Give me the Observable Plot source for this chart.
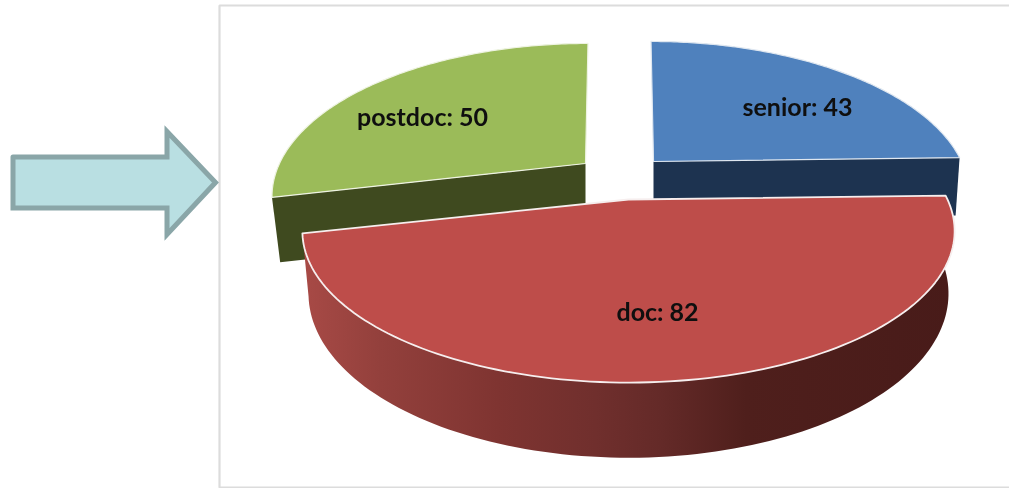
<!DOCTYPE html>
<html>
<head>
<meta charset="utf-8">
<script src="https://cdn.jsdelivr.net/npm/d3@7"></script>
<script src="https://cdn.jsdelivr.net/npm/@observablehq/plot@0.6"></script>
<style>
html,body{margin:0;padding:0;background:#fff;overflow:hidden}
svg{display:block;filter:blur(0.45px)}
</style>
</head>
<body>
<script>
// Data
const categories = ["senior", "doc", "postdoc"];
const counts = [43, 82, 50];

// Colours
const topColors = ["#4f81bd", "#be4d4a", "#9bbb59"];
const wallColors = ["#1d3350", "url(#docWall)", "#3f4a1f"];
const edgeColors = ["#dfe7f0", "#f6eeee", "#eef3e2"];

// Placement of each exploded slice in the tilted view
const apexX = [653, 628, 585];
const apexY = [161, 199, 163];
const radiusX = [308, 319, 306];
const radiusY = [145, 145, 145];
const skew = [-3, 0, 3];
const wallDrop = [58, 60, 65];
const wallRx = [304, 313, 298];
const wallRy = [145, 157, 145];
const labelX = [797, 657, 422];
const labelY = [107, 312, 117];
const perspective = 0.208;

// Slice angles come from the counts
const total = d3.sum(counts);
const ends = d3.cumsum(counts).map(c => c / total * 360);
const starts = [0, ...ends.slice(0, -1)];

function project(i, deg, wall) {
  const t = deg * Math.PI / 180, u = Math.sin(t), v = Math.cos(t);
  const w = 1 + perspective * v;
  const rx = wall ? wallRx[i] : radiusX[i];
  const ry = wall ? wallRy[i] : radiusY[i];
  const ay = apexY[i] + (wall ? wallDrop[i] : 0);
  return {x: apexX[i] + (rx * u + skew[i] * v) / w, y: ay - ry * v / w};
}
function arc(i, wall) {
  const n = 120, pts = [];
  for (let k = 0; k <= n; ++k) pts.push(project(i, starts[i] + (ends[i] - starts[i]) * k / n, wall));
  return pts;
}
function topFace(i) {
  const a = {x: apexX[i], y: apexY[i]};
  return [a, ...arc(i, false), a];
}
function wallFace(i) {
  if (categories[i] === "doc") {
    const top = arc(i, false), bottom = arc(i, true).reverse();
    return [...top, ...bottom, top[0]];
  }
  const a = {x: apexX[i], y: apexY[i]};
  const b = {x: apexX[i], y: apexY[i] + wallDrop[i]};
  const deg = categories[i] === "senior" ? ends[i] : starts[i];
  return [a, project(i, deg, false), project(i, deg, true), b, a];
}

// Frame and call-out arrow
const frameX = [1010, 219, 219, 1010];
const frameY = [5, 5, 487, 487];
const arrowX = [12.5, 166.5, 166.5, 215, 166.5, 166.5, 12.5, 12.5];
const arrowY = [156.5, 156.5, 131, 182, 234, 207.5, 207.5, 156.5];

const xy = {x: "x", y: "y"};
const toPts = (xs, ys) => xs.map((x, k) => ({x, y: ys[k]}));
const drawOrder = [2, 0, 1];

const marks = [
  () => {
    const ns = "http://www.w3.org/2000/svg";
    const defs = document.createElementNS(ns, "defs");
    const g = document.createElementNS(ns, "linearGradient");
    g.setAttribute("id", "docWall");
    g.setAttribute("x1", "0"); g.setAttribute("x2", "1");
    g.setAttribute("y1", "0"); g.setAttribute("y2", "0");
    [[0, "#a84a46"], [0.12, "#93403c"], [0.3, "#7f3431"], [0.45, "#702f2d"],
     [0.55, "#642a28"], [0.68, "#4f1f1c"], [1, "#481b19"]].forEach(([o, c]) => {
      const s = document.createElementNS(ns, "stop");
      s.setAttribute("offset", o); s.setAttribute("stop-color", c);
      g.appendChild(s);
    });
    defs.appendChild(g);
    return defs;
  },
  Plot.line(toPts(frameX, frameY), {...xy, stroke: "#dcdcdc", strokeWidth: 2.2, strokeLinejoin: "miter"}),
  Plot.line(toPts(arrowX, arrowY), {...xy, fill: "#b9dfe2", stroke: "#8aa6a8", strokeWidth: 5, strokeLinejoin: "miter", strokeMiterlimit: 4})
];
for (const i of drawOrder) {
  marks.push(Plot.line(wallFace(i), {...xy, fill: wallColors[i], stroke: "none"}));
  marks.push(Plot.line(topFace(i), {...xy, fill: topColors[i], stroke: edgeColors[i], strokeWidth: categories[i] === "doc" ? 1.8 : 1.2}));
}
marks.push(Plot.text(categories.map((c, i) => ({x: labelX[i], y: labelY[i], label: `${c}: ${counts[i]}`})), {
  ...xy, text: "label", fill: "#0f0f0f", fontSize: 25, fontWeight: 700, fontFamily: "Lato", textAnchor: "middle", lineAnchor: "middle"
}));

document.body.appendChild(Plot.plot({
  width: 1009, height: 488, margin: 0,
  x: {domain: [0, 1009], range: [0, 1009], axis: null},
  y: {domain: [0, 488], range: [0, 488], axis: null},
  style: {background: "#fff"},
  marks
}));
</script>
</body>
</html>
